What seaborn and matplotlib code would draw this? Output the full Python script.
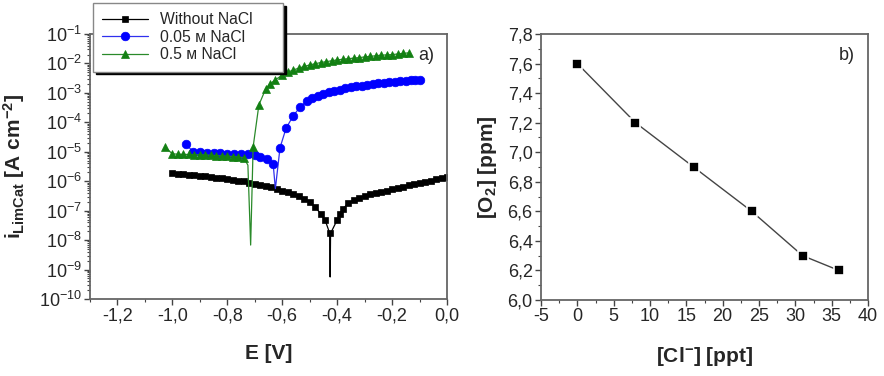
import matplotlib
matplotlib.use("Agg")
import matplotlib.pyplot as plt
import seaborn as sns
import pandas as pd
from matplotlib.ticker import MultipleLocator, FuncFormatter, LogLocator, NullFormatter

# ---------------- data: panel a) ----------------
E_without = [-1.00, -0.98, -0.96, -0.94, -0.92, -0.90, -0.88, -0.86, -0.84, -0.82,
             -0.80, -0.78, -0.76, -0.74, -0.72, -0.70, -0.68, -0.66, -0.64, -0.62,
             -0.60, -0.58, -0.56, -0.54, -0.52, -0.50, -0.48, -0.46, -0.444, -0.427,
             -0.4255, -0.424, -0.40, -0.39, -0.38, -0.36, -0.34, -0.32, -0.30, -0.28,
             -0.26, -0.24, -0.22, -0.20, -0.18, -0.16, -0.14, -0.12, -0.10, -0.08,
             -0.06, -0.04, -0.02, 0.00]
i_without = [1.9e-6, 1.82e-6, 1.74e-6, 1.66e-6, 1.58e-6, 1.51e-6, 1.45e-6, 1.38e-6, 1.32e-6, 1.26e-6,
             1.20e-6, 1.12e-6, 1.05e-6, 9.8e-7, 8.9e-7, 8.3e-7, 7.6e-7, 6.9e-7, 6.2e-7, 5.5e-7,
             4.8e-7, 4.2e-7, 3.6e-7, 3.1e-7, 2.5e-7, 1.9e-7, 1.32e-7, 7.9e-8, 4.8e-8, 1.7e-8,
             5.6e-10, 1.7e-8, 4.8e-8, 7.9e-8, 1.12e-7, 1.78e-7, 2.24e-7, 2.69e-7, 3.16e-7, 3.63e-7,
             3.98e-7, 4.27e-7, 4.68e-7, 5.25e-7, 5.89e-7, 6.61e-7, 7.24e-7, 7.94e-7, 8.71e-7, 9.55e-7,
             1.05e-6, 1.15e-6, 1.26e-6, 1.38e-6]

E_005 = [-0.95, -0.925, -0.90, -0.875, -0.85, -0.825, -0.80, -0.775, -0.75, -0.725,
         -0.70, -0.68, -0.655, -0.633, -0.625, -0.608, -0.586, -0.56, -0.535, -0.51,
         -0.49, -0.47, -0.45, -0.43, -0.41, -0.39, -0.37, -0.35, -0.33, -0.31,
         -0.29, -0.27, -0.25, -0.23, -0.21, -0.19, -0.17, -0.15, -0.13, -0.115, -0.10]
i_005 = [1.82e-5, 1.0e-5, 9.5e-6, 9.3e-6, 9.1e-6, 8.9e-6, 8.7e-6, 8.5e-6, 8.3e-6, 8.1e-6,
         7.8e-6, 6.9e-6, 5.8e-6, 3.8e-6, 5.6e-7, 1.38e-5, 6.3e-5, 1.66e-4, 3.3e-4, 5.2e-4,
         6.8e-4, 7.9e-4, 9.1e-4, 1.05e-3, 1.17e-3, 1.29e-3, 1.41e-3, 1.55e-3, 1.66e-3, 1.78e-3,
         1.91e-3, 2.0e-3, 2.09e-3, 2.19e-3, 2.29e-3, 2.4e-3, 2.45e-3, 2.57e-3, 2.69e-3, 2.75e-3, 2.8e-3]

E_05 = [-1.027, -1.00, -0.98, -0.96, -0.94, -0.92, -0.90, -0.88, -0.86, -0.84,
        -0.82, -0.80, -0.78, -0.76, -0.74, -0.725, -0.715, -0.706, -0.685, -0.66,
        -0.645, -0.626, -0.60, -0.58, -0.56, -0.54, -0.52, -0.50, -0.48, -0.46,
        -0.44, -0.42, -0.40, -0.38, -0.36, -0.34, -0.32, -0.30, -0.28, -0.26,
        -0.24, -0.22, -0.20, -0.18, -0.16, -0.14]
i_05 = [1.45e-5, 8.5e-6, 8.3e-6, 8.1e-6, 8.1e-6, 7.9e-6, 7.9e-6, 7.8e-6, 7.6e-6, 7.4e-6,
        7.2e-6, 7.1e-6, 6.9e-6, 6.6e-6, 6.3e-6, 3.5e-6, 6.8e-9, 1.45e-5, 3.9e-4, 1.38e-3,
        2.0e-3, 2.75e-3, 4.0e-3, 5.0e-3, 6.0e-3, 6.9e-3, 7.9e-3, 8.9e-3, 9.8e-3, 1.07e-2,
        1.15e-2, 1.23e-2, 1.32e-2, 1.38e-2, 1.45e-2, 1.51e-2, 1.58e-2, 1.66e-2, 1.74e-2, 1.82e-2,
        1.91e-2, 1.95e-2, 2.0e-2, 2.09e-2, 2.19e-2, 2.29e-2]

series_labels = ["Without NaCl", "0.05 м NaCl", "0.5 м NaCl"]

# ---------------- data: panel b) ----------------
cl_ppt = [0, 8, 16, 24, 31, 36]
o2_ppm = [7.6, 7.2, 6.9, 6.6, 6.3, 6.2]

# ---------------- style ----------------
sns.set_style("ticks")
plt.rcParams["font.family"] = ["Liberation Sans", "DejaVu Sans"]
plt.rcParams["mathtext.fontset"] = "custom"
plt.rcParams["mathtext.rm"] = "Liberation Sans"
plt.rcParams["mathtext.it"] = "Liberation Sans:italic"
plt.rcParams["mathtext.bf"] = "Liberation Sans:bold"

W, H = 884, 376
fig = plt.figure(figsize=(W / 100, H / 100), dpi=100)
axA = fig.add_axes([90 / W, 1 - 299 / H, 357 / W, 265 / H])
axB = fig.add_axes([541 / W, 1 - 300 / H, 327 / W, 266 / H])

spine_c = "#666666"
for ax in (axA, axB):
    for s in ax.spines.values():
        s.set_color(spine_c)
        s.set_linewidth(1.3)
    ax.tick_params(which="major", direction="out", length=4, width=1, color="#444444",
                   labelsize=13, pad=2)
    ax.tick_params(which="minor", direction="out", length=2.5, width=0.8, color="#444444")

def comma1(v, p):
    if abs(v) < 1e-9:
        v = 0.0
    return f"{v:.1f}".replace(".", ",")

# ---------------- panel a ----------------
axA.set_yscale("log")
sns.lineplot(x=E_without, y=i_without, ax=axA, color="black", linewidth=0.9,
             marker="s", markersize=5.0, markeredgecolor="black", markeredgewidth=0.5,
             markevery=[k for k in range(len(E_without)) if k not in (30, 31)],
             estimator=None, sort=False, label=series_labels[0])
sns.lineplot(x=E_005, y=i_005, ax=axA, color="#3030ee", linewidth=0.9,
             marker="o", markersize=6.2, markeredgecolor="#0000ff", markerfacecolor="#0000ff",
             markeredgewidth=0.5,
             markevery=[k for k in range(len(E_005)) if k != 14],
             estimator=None, sort=False, label=series_labels[1])
sns.lineplot(x=E_05, y=i_05, ax=axA, color="#2a8a2a", linewidth=0.9,
             marker="^", markersize=6.3, markeredgecolor="#138013", markerfacecolor="#138013",
             markeredgewidth=0.5,
             markevery=[k for k in range(len(E_05)) if k not in (15, 16)],
             estimator=None, sort=False, label=series_labels[2])

axA.set_xlim(-1.3, 0.0)
axA.set_ylim(1e-10, 1e-1)
axA.xaxis.set_major_locator(MultipleLocator(0.2))
axA.xaxis.set_minor_locator(MultipleLocator(0.1))
axA.xaxis.set_major_formatter(FuncFormatter(comma1))
axA.yaxis.set_major_locator(LogLocator(base=10, numticks=20))
axA.yaxis.set_minor_locator(LogLocator(base=10, subs=[2, 3, 4, 5, 6, 7, 8, 9], numticks=20))
axA.yaxis.set_minor_formatter(NullFormatter())
axA.set_xlabel("E [V]", fontsize=15, fontweight="bold", labelpad=14)
axA.set_ylabel(r"$\mathbf{i}_{\mathbf{LimCat}}$ [A cm$^{\mathbf{-2}}$]", fontsize=15,
               fontweight="bold", labelpad=8)
axA.text(0.965, 0.95, "a)", transform=axA.transAxes, ha="right", va="top", fontsize=13)

handles, labels = axA.get_legend_handles_labels()
if axA.get_legend() is not None:
    axA.get_legend().remove()
leg = fig.legend(handles, labels, loc="upper left",
                 bbox_to_anchor=(93 / W, 1 - 71 / H, 190 / W, 68 / H),
                 bbox_transform=fig.transFigure, mode="expand",
                 fontsize=11.3, frameon=True, fancybox=False,
                 edgecolor="#888888", framealpha=1, borderaxespad=0, borderpad=0.6,
                 labelspacing=0.15, handlelength=2.9, handletextpad=0.8,
                 shadow={"color": "black", "alpha": 1})
leg.get_frame().set_linewidth(1.0)

# ---------------- panel b ----------------
sns.lineplot(x=cl_ppt, y=o2_ppm, ax=axB, color="#444444", linewidth=1.0,
             marker="s", markersize=6.5, markerfacecolor="black", markeredgecolor="white",
             markeredgewidth=1.2, estimator=None, sort=False)
axB.set_xlim(-5, 40)
axB.set_ylim(6.0, 7.8)
axB.xaxis.set_major_locator(MultipleLocator(5))
axB.xaxis.set_minor_locator(MultipleLocator(2.5))
axB.yaxis.set_major_locator(MultipleLocator(0.2))
axB.yaxis.set_minor_locator(MultipleLocator(0.1))
axB.yaxis.set_major_formatter(FuncFormatter(comma1))
axB.xaxis.set_major_formatter(FuncFormatter(lambda v, p: f"{v:.0f}"))
axB.set_xlabel(r"[Cl$^{\mathbf{-}}$] [ppt]", fontsize=15, fontweight="bold", labelpad=14)
axB.set_ylabel(r"[O$_{\mathbf{2}}$] [ppm]", fontsize=15, fontweight="bold", labelpad=6)
axB.text(0.96, 0.95, "b)", transform=axB.transAxes, ha="right", va="top", fontsize=13)

fig.savefig("out.png", dpi=100)
